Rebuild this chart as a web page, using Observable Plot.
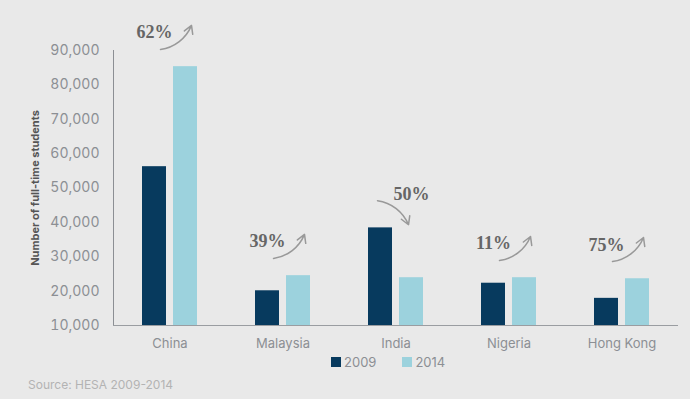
<!DOCTYPE html>
<html><head><meta charset="utf-8">
<script src="https://cdn.jsdelivr.net/npm/d3@7"></script>
<script src="https://cdn.jsdelivr.net/npm/@observablehq/plot@0.6"></script>
<style>
html,body{margin:0;padding:0;background:#e9e9e9;}
body{width:690px;height:399px;overflow:hidden;position:relative;font-family:Inter,sans-serif;}
#chart{position:absolute;left:0;top:0;}
#chart svg{display:block;overflow:visible;}
g[aria-label="y-axis tick label"] text{font-size:14px;}
g[aria-label="y-axis label"] text{font-size:11px;font-weight:bold;fill:#555;}
g[aria-label="fx-axis tick label"] text{font-size:13px;}
#legend{position:absolute;left:331px;top:345px;}
#legend .lg-swatches{font-family:Inter,sans-serif !important;font-size:13px !important;color:#8c8f94;margin:0 !important;}
#legend .lg-swatch{margin-right:26px !important;}
#legend .lg-swatch > svg{margin-right:3px !important;}
#source{position:absolute;left:28px;top:378px;font-size:12px;line-height:14px;color:#b3b3b3;}
</style></head>
<body>
<div id="chart"></div>
<div id="legend"></div>
<div id="source"></div>
<script>
const countries = ["China", "Malaysia", "India", "Nigeria", "Hong Kong"];
const years = ["2009", "2014"];
const students2009 = [56200, 20100, 38400, 22300, 17900];
const students2014 = [85300, 24500, 23900, 23900, 23600];
const changeLabels = ["62%", "39%", "50%", "11%", "75%"];
const yTicks = [10000, 20000, 30000, 40000, 50000, 60000, 70000, 80000, 90000];
const yLabel = "Number of full-time students";
const sourceText = "Source: HESA 2009-2014";
const colors = ["#073a5e", "#9cd2dd"];

const bars = countries.flatMap((c, i) => [
  {country: c, year: years[0], value: students2009[i]},
  {country: c, year: years[1], value: students2014[i]}
]);
const ann = countries.map((c, i) => ({
  country: c,
  label: changeLabels[i],
  top: Math.max(students2009[i], students2014[i]),
  up: students2014[i] >= students2009[i]
}));
const base = yTicks[0];

const chart = Plot.plot({
  width: 690, height: 352,
  marginLeft: 112, marginRight: 12, marginTop: 50, marginBottom: 27,
  style: {fontFamily: "Inter, sans-serif", fontSize: "14px", color: "#8c8f94", background: "transparent", overflow: "visible"},
  fx: {domain: countries, padding: 0, label: null, tickSize: 0, tickPadding: 13, axis: "bottom"},
  x: {domain: years, axis: null, paddingInner: 0.22, paddingOuter: 0.88},
  y: {domain: [base, yTicks[yTicks.length - 1]], ticks: yTicks, tickFormat: d3.format(","), tickSize: 0, tickPadding: 14,
      label: yLabel, labelArrow: "none", labelAnchor: "center", labelOffset: 82, line: true},
  color: {domain: years, range: colors},
  marks: [
    Plot.barY(bars, {fx: "country", x: "year", y1: () => base, y2: "value", fill: "year"}),
    Plot.ruleY([base], {stroke: "#9a9da1"}),
    Plot.text(ann, {fx: "country", x: d => d.up ? years[0] : years[1], y: "top", dy: -34, text: "label",
      fontFamily: "Liberation Serif", fontWeight: "bold", fontSize: 18, fill: "#666"}),
    Plot.arrow(ann.filter(d => d.up), {fx: "country", x1: () => years[0], x2: () => years[1],
      y1: d => d.top + 5000, y2: d => d.top + 12000, dx: 6, bend: -30,
      stroke: "#999", strokeWidth: 1.5, headLength: 9}),
    Plot.arrow(ann.filter(d => !d.up), {fx: "country", x1: () => years[0], x2: () => years[1],
      y1: d => d.top + 7900, y2: d => d.top + 900, dx: -3, bend: 30,
      stroke: "#999", strokeWidth: 1.5, headLength: 9})
  ]
});
document.getElementById("chart").append(chart);

const legend = Plot.legend({color: {domain: years, range: colors}, legend: "swatches", swatchSize: 10, className: "lg"});
document.getElementById("legend").append(legend);
document.getElementById("source").textContent = sourceText;
</script>
</body></html>
